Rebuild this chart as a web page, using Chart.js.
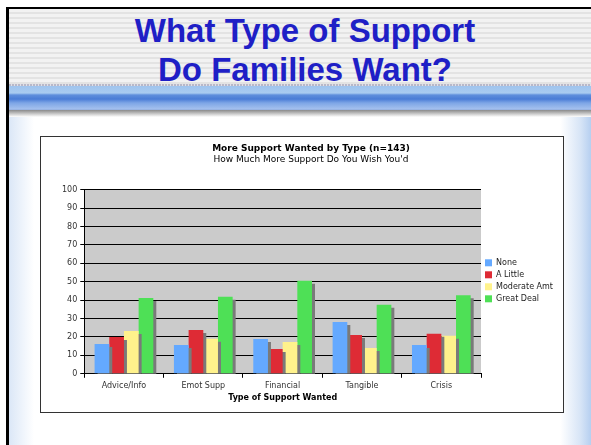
<!DOCTYPE html>
<html lang="en">
<head>
<meta charset="UTF-8">
<script src="https://cdn.jsdelivr.net/npm/chart.js"></script>
<title>What Type of Support</title>
<style>
  body { margin: 0; width: 591px; height: 445px; overflow: hidden; background: #fff; position: relative; font-family: "Liberation Sans", Arial, sans-serif; }
  .topLine { position: absolute; left: 6px; top: 7px; width: 585px; height: 2px; background: #000; }
  .leftLine { position: absolute; left: 6px; top: 7px; width: 3px; height: 438px; background: #000; }
  .header { position: absolute; left: 9px; top: 9px; width: 582px; height: 75px;
    background: repeating-linear-gradient(to bottom, #f2f2f2 0px, #f2f2f2 3px, #e3e3e3 3px, #e3e3e3 5px); }
  .dots { position: absolute; left: 9px; top: 84px; width: 582px; height: 2px;
    background: repeating-linear-gradient(to right, #b8b8c8 0px, #b8b8c8 2px, #e0e0e8 2px, #e0e0e8 3px); }
  .band { position: absolute; left: 9px; top: 86px; width: 582px; height: 24px;
    background: linear-gradient(to bottom, #9fc4ee 0px, #a9cbf0 7px, #5f8edc 9px, #4a7cd6 13px, #7ea6e6 17px, #a4c0ee 23px, #8ea8d8 24px); }
  .shade { position: absolute; left: 9px; top: 110px; width: 582px; height: 7px;
    background: linear-gradient(to bottom, #8a8a8a, #ffffff); }
  .rightGlow { position: absolute; left: 540px; top: 117px; width: 51px; height: 328px;
    background: linear-gradient(to right, rgba(255,255,255,0) 0%, rgba(255,255,255,0) 40%, #d6e4f6 80%, #b6cff0 100%); }
  .leftGlow { position: absolute; left: 9px; top: 117px; width: 25px; height: 328px;
    background: linear-gradient(to left, rgba(255,255,255,0) 0%, #dbe7f7 100%); }
  h1 { position: absolute; left: 0; top: 11px; width: 610px; margin: 0; text-align: center;
    font-size: 33px; line-height: 39px; font-weight: bold; color: #1f1fc6; }
  .frame { position: absolute; left: 40px; top: 136px; width: 522px; height: 275px; border: 1px solid #333; background: #fff; }
</style>
</head>
<body>
  <div class="header"></div>
  <div class="dots"></div>
  <div class="band"></div>
  <div class="shade"></div>
  <div class="rightGlow"></div>
  <div class="leftGlow"></div>
  <div class="topLine"></div>
  <div class="leftLine"></div>
  <h1>What Type of Support<br>Do Families Want?</h1>
  <div class="frame">
    <canvas id="grafico" width="522" height="275"></canvas>
  </div>

<script>
  // dados
  const categorias = ['Advice/Info', 'Emot Supp', 'Financial', 'Tangible', 'Crisis'];
  const nenhum = [16.2, 15.6, 18.9, 28.1, 15.6];
  const umPouco = [20.0, 23.8, 13.4, 21.1, 21.7];
  const moderado = [23.3, 19.0, 17.3, 14.0, 20.6];
  const muito = [41.2, 41.8, 50.5, 37.5, 42.7];
  const ticksY = [0, 10, 20, 30, 40, 50, 60, 70, 80, 90, 100];

  const fonte = '"DejaVu Sans", Verdana, sans-serif';

  // fundo cinza da área do gráfico
  const fundoPlot = {
    id: 'fundoPlot',
    beforeDraw(chart) {
      const a = chart.chartArea;
      const ctx = chart.ctx;
      ctx.save();
      ctx.fillStyle = '#cbcbcb';
      ctx.fillRect(a.left, a.top, a.right - a.left, a.bottom - a.top);
      ctx.restore();
    }
  };

  // sombra cinza atrás das barras
  const sombra = {
    id: 'sombra',
    beforeDatasetDraw(chart) {
      const ctx = chart.ctx;
      ctx.save();
      ctx.shadowColor = '#7a7a7a';
      ctx.shadowOffsetX = 3;
      ctx.shadowOffsetY = 3;
      ctx.shadowBlur = 0;
    },
    afterDatasetDraw(chart) {
      chart.ctx.restore();
    }
  };

  const dados = {
    labels: categorias,
    datasets: [
      { label: 'None', data: nenhum, backgroundColor: '#64a9ff' },
      { label: 'A Little', data: umPouco, backgroundColor: '#de2b35' },
      { label: 'Moderate Amt', data: moderado, backgroundColor: '#fff28c' },
      { label: 'Great Deal', data: muito, backgroundColor: '#4ee056' }
    ]
  };

  const config = {
    type: 'bar',
    data: dados,
    options: {
      responsive: false,
      animation: false,
      layout: { padding: { left: 18, right: 0, top: 4, bottom: 9 } },
      datasets: { bar: { barPercentage: 1, categoryPercentage: 0.74, borderWidth: 0 } },
      plugins: {
        title: {
          display: true,
          text: 'More Support Wanted by Type (n=143)',
          color: '#000',
          font: { family: fonte, size: 9, weight: 'bold' },
          padding: { top: 2, bottom: 0 }
        },
        subtitle: {
          display: true,
          text: "How Much More Support Do You Wish You'd",
          color: '#000',
          font: { family: fonte, size: 9 },
          padding: { top: 0, bottom: 25 }
        },
        legend: {
          position: 'right',
          align: 'center',
          title: { display: true, text: ' ', font: { size: 8 }, padding: { top: 4, bottom: 4 } },
          labels: {
            boxWidth: 7,
            boxHeight: 7,
            padding: 4,
            color: '#222',
            font: { family: fonte, size: 8 }
          }
        },
        tooltip: { enabled: false }
      },
      scales: {
        x: {
          grid: { display: true, drawOnChartArea: false, offset: true, color: '#000', tickLength: 4 },
          border: { color: '#000', width: 1 },
          ticks: { color: '#333', font: { family: fonte, size: 8 }, padding: 3 },
          title: {
            display: true,
            text: 'Type of Support Wanted',
            color: '#000',
            font: { family: fonte, size: 8, weight: 'bold' },
            padding: { top: 0, bottom: 0 }
          }
        },
        y: {
          min: 0,
          max: 100,
          afterBuildTicks(axis) { axis.ticks = ticksY.map(v => ({ value: v })); },
          grid: { color: '#000', tickLength: 4 },
          border: { color: '#000', width: 1 },
          ticks: { color: '#333', font: { family: fonte, size: 8 }, padding: 3 }
        }
      }
    },
    plugins: [fundoPlot, sombra]
  };

  new Chart(document.getElementById('grafico'), config);
</script>
</body>
</html>
